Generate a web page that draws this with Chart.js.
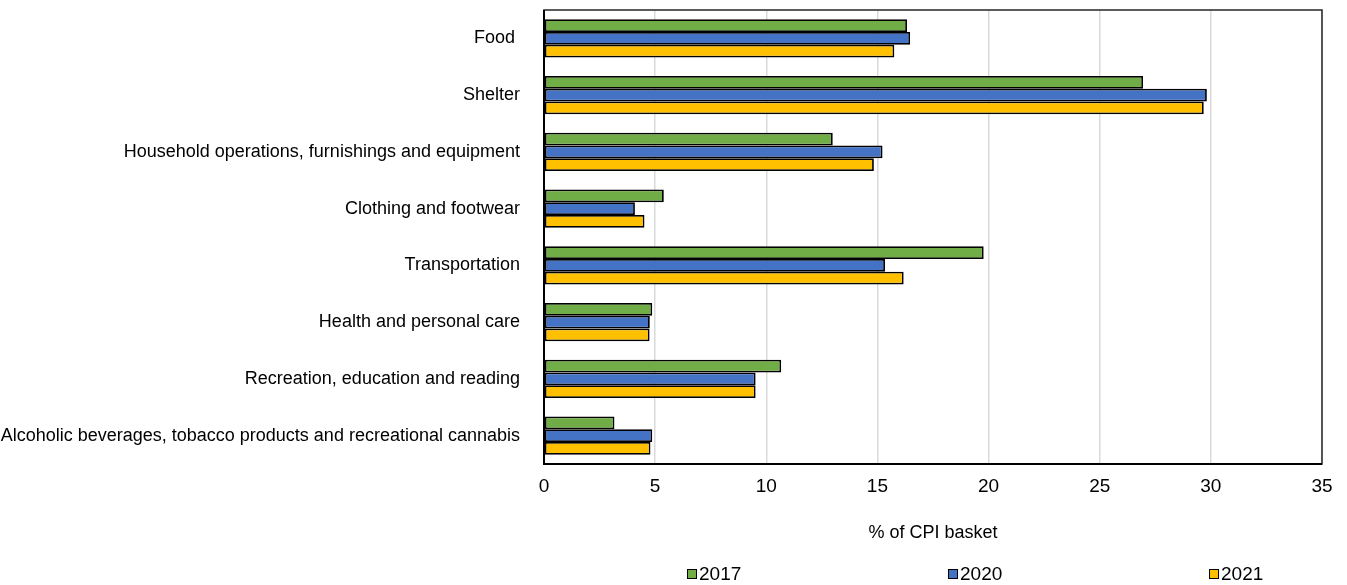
<!DOCTYPE html>
<html>
<head>
<meta charset="utf-8">
<script src="https://cdn.jsdelivr.net/npm/chart.js@4/dist/chart.umd.min.js"></script>
<style>
  html, body { margin: 0; padding: 0; background: #fff; }
  #wrap { width: 1347px; height: 585px; position: relative; }
</style>
</head>
<body>
<div id="wrap"><canvas id="c"></canvas></div>
<script>
const categories = [
  "Food ",
  "Shelter",
  "Household operations, furnishings and equipment",
  "Clothing and footwear",
  "Transportation",
  "Health and personal care",
  "Recreation, education and reading",
  "Alcoholic beverages, tobacco products and recreational cannabis"
];
const seriesNames = ["2017", "2020", "2021"];
const values2017 = [16.33, 26.95, 12.99, 5.39, 19.78, 4.87, 10.67, 3.17];
const values2020 = [16.47, 29.82, 15.23, 4.09, 15.34, 4.76, 9.52, 4.87];
const values2021 = [15.76, 29.68, 14.84, 4.52, 16.18, 4.75, 9.52, 4.79];
const xTicks = [0, 5, 10, 15, 20, 25, 30, 35];
const axisTitle = "% of CPI basket";

const colors = ["#70AD47", "#4472C4", "#FFC000"];
const FONT = "'Liberation Sans Narrow', 'Arial Narrow', 'Liberation Sans', Arial, sans-serif";

const boxPlugin = {
  id: 'box',
  afterDatasetsDraw(chart) {
    const a = chart.chartArea, ctx = chart.ctx;
    ctx.save();
    ctx.strokeStyle = '#262626';
    ctx.lineWidth = 1.5;
    ctx.strokeRect(a.left, a.top, a.right - a.left, a.bottom - a.top);
    ctx.lineWidth = 2;
    ctx.strokeStyle = '#000';
    ctx.beginPath();
    ctx.moveTo(a.left, a.top);
    ctx.lineTo(a.left, a.bottom);
    ctx.lineTo(a.right, a.bottom);
    ctx.stroke();
    ctx.restore();
  }
};

const legendPlugin = {
  id: 'customLegend',
  afterDraw(chart) {
    const a = chart.chartArea, ctx = chart.ctx;
    const w = a.right - a.left;
    const y = 574;
    ctx.save();
    ctx.font = "19px " + FONT;
    ctx.textBaseline = 'middle';
    chart.data.datasets.forEach((ds, i) => {
      const x = a.left + w * (0.1838 + i * 0.3355);
      ctx.fillStyle = ds.backgroundColor;
      ctx.fillRect(x, y - 5, 10, 10);
      ctx.strokeStyle = '#000';
      ctx.lineWidth = 1;
      ctx.strokeRect(x + 0.5, y - 4.5, 9, 9);
      ctx.fillStyle = '#000';
      ctx.fillText(ds.label, x + 12, y + 1);
    });
    ctx.restore();
  }
};

const seriesValues = [values2017, values2020, values2021];

new Chart(document.getElementById('c'), {
  type: 'bar',
  data: {
    labels: categories,
    datasets: seriesNames.map((n, i) => ({
      label: n,
      data: seriesValues[i],
      backgroundColor: colors[i],
      borderColor: '#000',
      borderWidth: 1.8,
      borderSkipped: false,
      categoryPercentage: 0.677,
      barPercentage: 1.0
    }))
  },
  options: {
    indexAxis: 'y',
    responsive: true,
    maintainAspectRatio: false,
    animation: false,
    layout: { padding: { top: 10, right: 25, left: 0, bottom: 41 } },
    plugins: {
      legend: { display: false },
      tooltip: { enabled: false }
    },
    scales: {
      x: {
        min: 0, max: 35,
        afterBuildTicks(s) { s.ticks = xTicks.map(v => ({ value: v })); },
        afterFit(s) { s.height = 80; s.paddingLeft = 0; s.paddingRight = 0; },
        grid: { color: '#d9d9d9', lineWidth: 1.5, drawTicks: false },
        border: { display: false },
        ticks: { padding: 11, color: '#000', font: { family: FONT, size: 19 } },
        title: { display: true, text: axisTitle, color: '#000', padding: 0, font: { family: FONT, size: 18 } }
      },
      y: {
        afterFit(s) { s.width = 544; s.paddingTop = 0; s.paddingBottom = 0; },
        grid: { display: false, drawTicks: false },
        border: { display: false },
        ticks: { padding: 24, color: '#000', font: { family: FONT, size: 18 } }
      }
    }
  },
  plugins: [boxPlugin, legendPlugin]
});
</script>
</body>
</html>
